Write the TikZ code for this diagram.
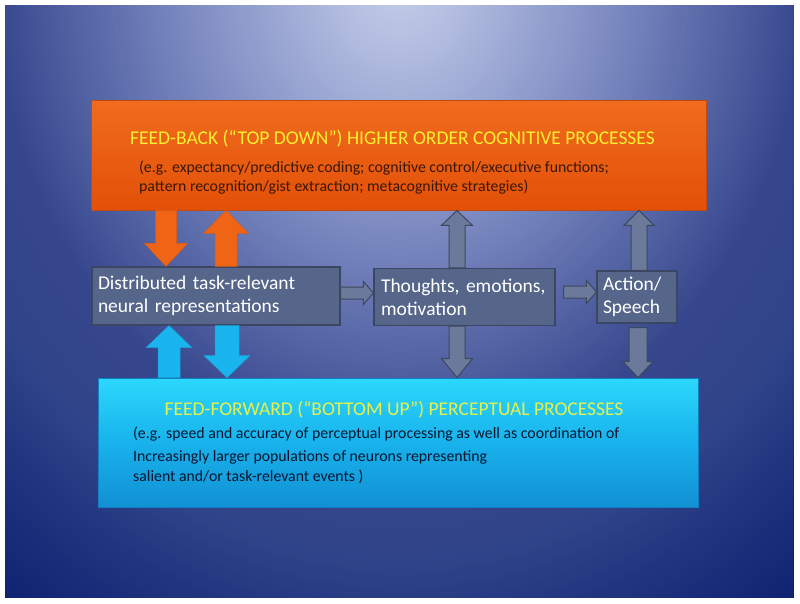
\documentclass[tikz,border=0pt]{standalone}
\usepackage{fontspec}
\setmainfont{Carlito}
\usetikzlibrary{calc}
\definecolor{bg0}{HTML}{C4CCE8}
\definecolor{bg1}{HTML}{B6C0E2}
\definecolor{bg2}{HTML}{A4B0D8}
\definecolor{bg3}{HTML}{7A88C0}
\definecolor{bg4}{HTML}{5464A4}
\definecolor{bg5}{HTML}{36468C}
\definecolor{bg6}{HTML}{30448A}
\definecolor{bg7}{HTML}{1A2E7A}
\definecolor{bg8}{HTML}{0C2070}
\definecolor{fbtop}{HTML}{F06C1E}
\definecolor{fbbot}{HTML}{E35008}
\definecolor{fbedge}{HTML}{C04A12}
\definecolor{fftop}{HTML}{2CD8FC}
\definecolor{ffmid}{HTML}{18B2EC}
\definecolor{ffbot}{HTML}{1290D4}
\definecolor{ffedge}{HTML}{1280C0}
\definecolor{ttlA}{HTML}{F8F030}
\definecolor{ttlB}{HTML}{E6F04A}
\definecolor{bodyAcol}{HTML}{3A1806}
\definecolor{bodyBcol}{HTML}{08152F}
\definecolor{gbfill}{HTML}{56668A}
\definecolor{gbedge}{HTML}{3A4664}
\definecolor{gafill}{HTML}{6B7A9A}
\definecolor{gaedge}{HTML}{3D475E}
\definecolor{oafill}{HTML}{F06515}
\definecolor{bafill}{HTML}{1AB4EE}
% block arrow: [style]{from}{to}{shaft half width}{head half width}{head length}
\newcommand\barrow[6][]{%
  \coordinate (bac) at ($(#3)!#6!(#2)$);
  \draw[#1] ($(#2)!#4!90:(#3)$) -- ($(bac)!#4!90:(#3)$) -- ($(bac)!#5!90:(#3)$) -- (#3)
    -- ($(bac)!#5!-90:(#3)$) -- ($(bac)!#4!-90:(#3)$) -- ($(#2)!#4!-90:(#3)$) -- cycle;}
\begin{document}
\begin{tikzpicture}[x=1pt,y=-1pt,
  fbbox/.style={rectangle, draw=fbedge, line width=0.8pt, top color=fbtop, bottom color=fbbot, inner sep=0pt},
  ffbox/.style={rectangle, draw=ffedge, line width=0.8pt, top color=fftop, bottom color=ffbot, middle color=ffmid, inner sep=0pt},
  graybox/.style={rectangle, draw=gbedge, line width=1.2pt, fill=gbfill, text=white, align=left,
     font=\fontsize{19.5pt}{23pt}\selectfont, inner ysep=0pt},
  ttl/.style={anchor=base, inner sep=0pt, font=\fontsize{19.5pt}{23pt}\selectfont},
  bodytxt/.style={anchor=base west, inner sep=0pt, font=\fontsize{15.8pt}{19pt}\selectfont},
  oarrow/.style={fill=oafill, draw=oafill!90!black, line width=0.5pt},
  barr/.style={fill=bafill, draw=bafill!90!black, line width=0.5pt},
  garrow/.style={fill=gafill, draw=gaedge, line width=1pt},
]
\fill[white] (0,0) rectangle (800,603);
\begin{scope}
  \clip (5,5) rectangle (793,597);
  \foreach \da/\db/\ca/\cb in {800/900/bg8/bg8, 700/800/bg7/bg8, 580/700/bg6/bg7, 480/580/bg5/bg6,
      380/480/bg4/bg5, 260/380/bg3/bg4, 120/260/bg2/bg3, 60/120/bg1/bg2, 0/60/bg0/bg1}{
    \pgfmathtruncatemacro\dbm{\db-4}
    \foreach \r in {\db,\dbm,...,\da}{
      \pgfmathtruncatemacro\p{100*(\r-\da)/(\db-\da)}
      \pgfmathsetmacro\rx{0.85*\r}
      \fill[fill={\cb!\p!\ca}] (400,-20) ellipse [x radius=\rx pt, y radius=\r pt];
    }
  }
\end{scope}
\useasboundingbox (0,0) rectangle (800,603);

% top box
\node[fbbox, minimum width=615pt, minimum height=110pt] (fb) at (398.5,155) {};
\node[ttl, text=ttlA] (fbt) at (392.5,144) {FEED-BACK (“TOP DOWN”) HIGHER ORDER COGNITIVE PROCESSES};
\node[bodytxt, text=bodyAcol] (fb1) at (139,172) {(e.g. expectancy/predictive coding; cognitive control/executive functions;};
\node[bodytxt, text=bodyAcol] (fb2) at (139,191) {pattern recognition/gist extraction; metacognitive strategies)};

% bottom box
\node[ffbox, minimum width=600pt, minimum height=129pt] (ff) at (398,442.5) {};
\node[ttl, text=ttlB] (fft) at (394,415) {FEED-FORWARD (“BOTTOM UP”) PERCEPTUAL PROCESSES};
\node[bodytxt, text=bodyBcol] (ff1) at (133,438) {(e.g. speed and accuracy of perceptual processing as well as coordination of};
\node[bodytxt, text=bodyBcol] (ff2) at (133,461) {Increasingly larger populations of neurons representing};
\node[bodytxt, text=bodyBcol] (ff3) at (133,481) {salient and/or task-relevant events )};

% middle boxes
\node[graybox, text width=236pt, inner xsep=6pt, minimum height=58pt] (dist) at (216,296) {Distributed task-relevant\\neural representations};
\node[graybox, text width=167pt, inner xsep=7pt, minimum height=57pt] (th) at (464.5,297) {Thoughts, emotions,\\motivation};
\node[graybox, text width=68pt, inner xsep=6pt, minimum height=52pt] (act) at (637,297) {Action/\\Speech};

% arrow end points
\coordinate (odA) at (fb.south -| 166,0);
\coordinate (odB) at (dist.north -| 166,0);
\coordinate (ouA) at (dist.north -| 226,0);
\coordinate (ouB) at (fb.south -| 226,0);
\coordinate (buA) at (ff.north -| 169,0);
\coordinate (buB) at (dist.south -| 169,0);
\coordinate (bdA) at (dist.south -| 227,0);
\coordinate (bdB) at (ff.north -| 227,0);
\coordinate (g1uA) at (th.north -| 457,0);
\coordinate (g1uB) at (fb.south -| 457,0);
\coordinate (g1dA) at (th.south -| 457,0);
\coordinate (g1dB) at (ff.north -| 457,0);
\coordinate (g2uA) at (act.north -| 639,0);
\coordinate (g2uB) at (fb.south -| 639,0);
\coordinate (g2dA) at ($(act.south -| 638,0)+(0,4)$);
\coordinate (g2dB) at (ff.north -| 638,0);
\coordinate (r1A) at (dist.east |- 0,293);
\coordinate (r1B) at (th.west |- 0,293);
\coordinate (r2A) at ($(th.east |- 0,292)+(8,0)$);
\coordinate (r2B) at (act.west |- 0,292);

\barrow[oarrow]{odA}{odB}{10.5pt}{21.5pt}{23pt}
\barrow[oarrow]{ouA}{ouB}{11pt}{22.5pt}{23pt}
\barrow[barr]{buA}{buB}{11pt}{23pt}{22pt}
\barrow[barr]{bdA}{bdB}{12pt}{23pt}{22pt}
\barrow[garrow]{g1uA}{g1uB}{8pt}{15.5pt}{15pt}
\barrow[garrow]{g1dA}{g1dB}{8pt}{15.5pt}{19pt}
\barrow[garrow]{g2uA}{g2uB}{8pt}{15pt}{15pt}
\barrow[garrow]{g2dA}{g2dB}{9pt}{15pt}{16pt}
\barrow[garrow]{r1A}{r1B}{6pt}{11.5pt}{10pt}
\barrow[garrow]{r2A}{r2B}{6pt}{11.5pt}{10pt}
\end{tikzpicture}
\end{document}
